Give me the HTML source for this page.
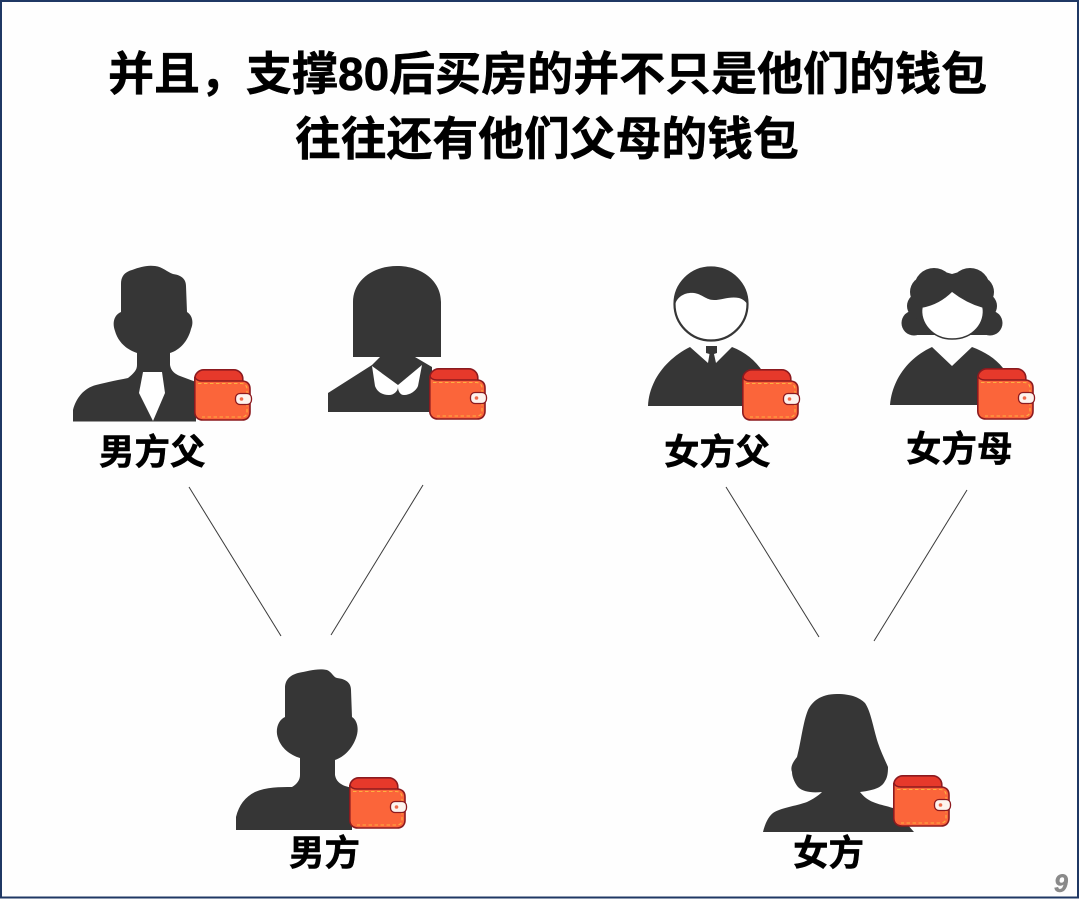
<!DOCTYPE html>
<html lang="zh">
<head>
<meta charset="utf-8">
<title>80后买房</title>
<style>
html,body{margin:0;padding:0;background:#fff}
svg{display:block}
text{font-family:"Liberation Sans","Noto Sans CJK SC",sans-serif;font-weight:700;fill:#000;stroke:#000;stroke-width:.5px}
</style>
</head>
<body>
<svg width="1080" height="899" viewBox="0 0 1080 899" xmlns="http://www.w3.org/2000/svg">
<defs>
<g id="w">
<rect x="0.8" y="0.8" width="48" height="32" rx="9" fill="#e6392b" stroke="#8c1a1f" stroke-width="1.6"/>
<path d="M0.8 8C2 11 4 12 8 12H48C53 12 56 15 56 20V43C56 48 53 51 48 51H9C4 51 0.8 48 0.8 43Z" fill="#fb653a" stroke="#8c1a1f" stroke-width="1.6"/>
<path d="M4 14.500H47C51 14.500 53 17 53 20V43C53 46.500 51 48 47 48H8" fill="none" stroke="#fbb040" stroke-width="1.1" stroke-dasharray="3.500 2.500"/>
<rect x="41.500" y="24.500" width="16" height="11" rx="4.500" fill="#fdf3ee" stroke="#8c1a1f" stroke-width="1.3"/>
<circle cx="47.500" cy="30" r="1.800" fill="#ef6a4a"/>
</g>
</defs>

<rect width="1080" height="899" fill="#fefefe"/>
<rect x="1" y="1" width="1077" height="896.500" fill="none" stroke="#1f3864" stroke-width="2"/>

<text x="108" y="90" font-size="46">并且，支撑80后买房的并不只是他们的钱包</text>
<text x="295" y="155" font-size="45.800">往往还有他们父母的钱包</text>

<g fill="#363636">
<!-- male father -->
<path d="M73 421.500V410C76 398 84 388 96 385C108 382 118 380 128 378C134 373 137 370 137 365V353C127 350 118 342 115 331C112 323 114 315 121 312V284C121 276 125 272 132 270C140 267 147 265 155 266C163 267 167 272 173 274C180 275 186 278 186 286L187 312C192 315 194 322 191 329C188 341 180 350 170 353V365C171 371 175 374 180 376L196 382V421.500Z"/>
<!-- mother L -->
<path d="M353 357V302C353 281 372 266 397 266C422 266 441 281 441 302V357H415L432 367V412H328V393L372 365L380 357Z"/>
<!-- father R -->
<path d="M648 406C649 381 666 359 690 347L708 363L709.500 354L706 353V346H717V353L714 354L716 363L732 347C745 352 755 360 763 372V406Z"/>
<!-- mother R -->
<path d="M890 405C892 380 908 358 932 347L952 366L972 347C985 352 995 358 1003 368V405Z"/>
<circle cx="914" cy="323" r="12.500"/><circle cx="990" cy="323" r="12.500"/>
<circle cx="920" cy="306" r="13"/><circle cx="984" cy="306" r="13"/>
<circle cx="926" cy="292" r="16"/><circle cx="978" cy="292" r="16"/>
<circle cx="934" cy="288" r="20"/><circle cx="970" cy="288" r="20"/>
<path d="M945 272L952 274L959 272L985 300L990 335H914L919 300Z"/>
<!-- male -->
<path d="M236 830V817C239 805 245 797 255 792C266 787 280 787 292 787C297 784 300 780 300 775V758C290 755 281 748 278 738C275 730 278 720 285 717V688C285 679 291 675 298 673C308 671 318 668 327 670C332 672 333 677 337 678C345 679 351 682 351 690L352 717C358 721 359 730 356 738C352 749 344 757 335 760V775C336 781 340 784 345 786L352 788V830Z"/>
<!-- female -->
<path d="M763 832C765 824 768 817 773 813C780 808 796 806 807 802C813 799 818 796 822 792C812 793 803 792 798 787C794 782 792 776 792 772C790 767 793 762 797 757C801 742 803 722 808 710C812 702 820 694 837 694C852 694 860 698 865 703C871 712 873 727 878 743C881 752 885 760 888 767C888 774 887 778 885 781C882 787 876 790 860 792C864 797 868 800 873 802C880 805 887 806 893 808L914 832Z"/>
</g>
<!-- tie -->
<path d="M143 372H162L165 393L153 421L139 393Z" fill="#fff"/>
<!-- collar -->
<path d="M372 366L398 385L422 365L418 386C416 391 410 395 404 395C400 395 398 391 398 387C398 391 394 395 389 395C381 395 377 391 375 386Z" fill="#fff"/>
<!-- father head -->
<circle cx="711" cy="304" r="36.500" fill="#fff" stroke="#363636" stroke-width="2.200"/>
<path d="M675 305C675 283 691 267 711 267C731 267 748 283 748 305C746 302 743 299 739 298C730 296 722 300 714 300C706 300 702 294 694 293C686 292 677 296 675 305Z" fill="#363636"/>
<!-- mother face -->
<path d="M922 307C934 305 944 299 952 291C961 298 972 304 983 307C986 322 974 339 952 339C932 339 919 322 922 307Z" fill="#fff" stroke="#363636" stroke-width="1.500"/>

<g stroke="#3a3a3a" stroke-width="1">
<line x1="189" y1="487" x2="281" y2="636"/>
<line x1="423" y1="485" x2="331" y2="635"/>
<line x1="726" y1="487" x2="819" y2="637"/>
<line x1="967" y1="490" x2="874" y2="641"/>
</g>

<use href="#w" x="194" y="369"/>
<use href="#w" x="429" y="368"/>
<use href="#w" x="742" y="369"/>
<use href="#w" x="977" y="368"/>
<use href="#w" x="349" y="777"/>
<use href="#w" x="893" y="775"/>

<text x="99" y="464" font-size="35.500">男方父</text>
<text x="664" y="464" font-size="35.500">女方父</text>
<text x="906" y="461" font-size="35.500">女方母</text>
<text x="289" y="865" font-size="35.500">男方</text>
<text x="793" y="865" font-size="35.500">女方</text>
<text x="1054" y="892" font-size="25" font-style="italic" style="fill:#8a8a8a;stroke:#8a8a8a">9</text>
</svg>
</body>
</html>
